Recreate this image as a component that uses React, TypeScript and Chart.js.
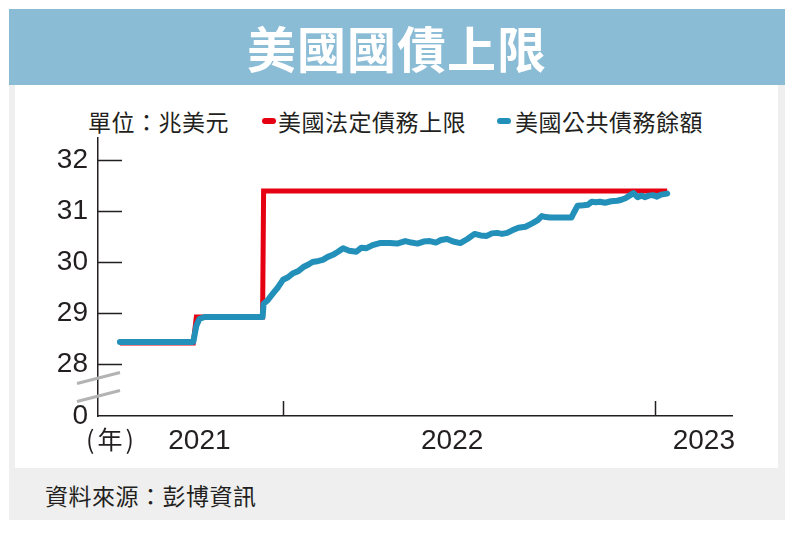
import React, { useEffect, useRef } from 'react';
import { Chart, registerables } from 'chart.js';

Chart.register(...registerables);

const TITLE = '美國國債上限';
const UNIT_LABEL = '單位：兆美元';
const LIMIT_NAME = '美國法定債務上限';
const DEBT_NAME = '美國公共債務餘額';
const SOURCE = '資料來源：彭博資訊';
const YEAR_UNIT = '(年)';

// x = days counted from 2021-01-01
const limitDays = [205, 277, 280, 345, 346, 742];
const limitValues = [28.41, 28.41, 28.92, 28.92, 31.39, 31.39];

const debtDays = [
  205, 277, 280, 283, 288, 345, 346, 350, 355, 360, 365, 370, 375, 380, 385, 390,
  394, 400, 404, 409, 414, 419, 424, 430, 437, 442, 447, 453, 460, 470, 477, 485,
  491, 497, 503, 509, 515, 520, 526, 532, 539, 546, 553, 559, 565, 570, 575, 580,
  585, 590, 596, 603, 610, 615, 619, 623, 627, 640, 648, 650, 654, 660, 664, 668,
  672, 676, 681, 687, 693, 697, 701, 705, 709, 713, 717, 720, 724, 728, 732, 736, 742,
];
const debtValues = [
  28.43, 28.43, 28.75, 28.88, 28.92, 28.92, 29.18, 29.25, 29.38, 29.5, 29.65, 29.7, 29.78, 29.82, 29.9, 29.95,
  30.0, 30.02, 30.04, 30.1, 30.14, 30.2, 30.27, 30.22, 30.2, 30.28, 30.27, 30.33, 30.37, 30.37, 30.36, 30.41,
  30.38, 30.36, 30.4, 30.41, 30.38, 30.43, 30.45, 30.4, 30.37, 30.45, 30.55, 30.52, 30.51, 30.56, 30.57, 30.55,
  30.57, 30.62, 30.67, 30.69, 30.76, 30.82, 30.9, 30.88, 30.87, 30.87, 30.87, 30.95, 31.1, 31.11, 31.12, 31.18,
  31.17, 31.18, 31.16, 31.19, 31.2, 31.22, 31.25, 31.3, 31.35, 31.27, 31.3, 31.27, 31.3, 31.31, 31.28, 31.32, 31.34,
];

const yTicks = [28, 29, 30, 31, 32];
const yBreakLabel = '0';
const yMin = 26.98;
const yMax = 32.43;

const xMin = 183.5;
const xMax = 805.6;
const yearLabels = ['2021', '2022', '2023'];
const yearLabelDays = [283, 531, 778];
const yearStartDays = [365, 730];

const RED = '#e50012';
const BLUE = '#2390b9';
const INK = '#231f20';
const NUM_FONT = '"Liberation Sans", Arial, sans-serif';
const CJK_FONT = '"Noto Sans CJK TC", "Noto Sans CJK SC", sans-serif';

const axisMarks = {
  id: 'axisMarks',
  afterDraw(chart: any) {
    const { ctx, scales } = chart;
    const xs = scales.x;
    const ys = scales.y;
    const left = xs.left;
    const bottom = ys.bottom;
    ctx.save();
    ctx.strokeStyle = INK;
    ctx.lineWidth = 1.5;
    ctx.beginPath();
    yTicks.forEach((v) => {
      const y = Math.round(ys.getPixelForValue(v)) + 0.5;
      ctx.moveTo(left, y);
      ctx.lineTo(left + 24, y);
    });
    yearStartDays.forEach((d) => {
      const x = Math.round(xs.getPixelForValue(d)) + 0.5;
      ctx.moveTo(x, bottom);
      ctx.lineTo(x, bottom - 15);
    });
    ctx.stroke();
    // axis break
    ctx.strokeStyle = '#b3b3b3';
    ctx.lineWidth = 3;
    ctx.beginPath();
    [-38, -20].forEach((off) => {
      ctx.moveTo(left - 21, bottom + off + 5.5);
      ctx.lineTo(left + 22, bottom + off - 5.5);
    });
    ctx.stroke();
    ctx.restore();
  },
};

function ChartCanvas() {
  const ref = useRef<HTMLCanvasElement | null>(null);
  useEffect(() => {
    if (!ref.current) return;
    const chart = new Chart(ref.current, {
      type: 'line',
      data: {
        datasets: [
          {
            label: DEBT_NAME,
            data: debtDays.map((d, i) => ({ x: d, y: debtValues[i] })),
            borderColor: BLUE,
            borderWidth: 6,
            pointRadius: 0,
            borderCapStyle: 'round',
            borderJoinStyle: 'round',
            tension: 0,
            order: 0,
          },
          {
            label: LIMIT_NAME,
            data: limitDays.map((d, i) => ({ x: d, y: limitValues[i] })),
            borderColor: RED,
            borderWidth: 5,
            pointRadius: 0,
            borderCapStyle: 'butt',
            borderJoinStyle: 'miter',
            tension: 0,
            order: 1,
          },
        ],
      },
      options: {
        animation: false,
        responsive: false,
        events: [],
        layout: { padding: { top: 10, right: 66, left: 0, bottom: 0 } },
        plugins: { legend: { display: false }, tooltip: { enabled: false } },
        scales: {
          x: {
            type: 'linear',
            min: xMin,
            max: xMax,
            border: { display: true, color: INK, width: 1.5 },
            grid: { display: true, drawOnChartArea: false, drawTicks: false },
            afterBuildTicks: (scale: any) => {
              scale.ticks = yearLabelDays.map((v) => ({ value: v }));
            },
            afterFit: (scale: any) => {
              scale.height = 52;
              scale.paddingLeft = 0;
              scale.paddingRight = 0;
              scale.paddingTop = 0;
              scale.paddingBottom = 0;
            },
            ticks: {
              autoSkip: false,
              maxRotation: 0,
              padding: 8,
              color: INK,
              font: { family: NUM_FONT, size: 28 },
              callback: (_v: any, i: number) => yearLabels[i],
            },
          },
          y: {
            type: 'linear',
            min: yMin,
            max: yMax,
            border: { display: true, color: INK, width: 1.5 },
            grid: { display: true, drawOnChartArea: false, drawTicks: false },
            afterBuildTicks: (scale: any) => {
              scale.ticks = [yMin, ...yTicks].map((v) => ({ value: v }));
            },
            afterFit: (scale: any) => {
              scale.width = 98;
              scale.paddingLeft = 0;
              scale.paddingRight = 0;
              scale.paddingTop = 0;
              scale.paddingBottom = 0;
            },
            ticks: {
              autoSkip: false,
              padding: 10,
              color: INK,
              font: { family: NUM_FONT, size: 28 },
              callback: (v: any, i: number) => (i === 0 ? yBreakLabel : String(v)),
            },
          },
        },
      },
      plugins: [axisMarks],
    } as any);
    return () => chart.destroy();
  }, []);
  return (
    <canvas
      ref={ref}
      width={798}
      height={340}
      style={{ position: 'absolute', left: 0, top: 128, width: 798, height: 340 }}
    />
  );
}

export default function App() {
  const legendText: React.CSSProperties = {
    position: 'absolute',
    top: 107,
    fontFamily: CJK_FONT,
    fontSize: 23,
    lineHeight: '28px',
    color: INK,
    letterSpacing: 0.5,
    whiteSpace: 'nowrap',
  };
  const dash = (color: string, left: number): React.CSSProperties => ({
    position: 'absolute',
    left,
    top: 118,
    width: 14,
    height: 6,
    borderRadius: 3,
    background: color,
  });
  return (
    <div style={{ position: 'absolute', left: 0, top: 0, width: 798, height: 537, background: '#fff', overflow: 'hidden' }}>
      <div style={{ position: 'absolute', left: 9, top: 85, width: 776, height: 435, background: '#efefef' }} />
      <div style={{ position: 'absolute', left: 15, top: 85, width: 763, height: 383, background: '#fff' }} />
      <div
        style={{
          position: 'absolute',
          left: 9,
          top: 9,
          width: 776,
          height: 76,
          background: '#8abcd6',
          color: '#fff',
          fontFamily: CJK_FONT,
          fontWeight: 700,
          fontSize: 49,
          lineHeight: '76px',
          textAlign: 'center',
          letterSpacing: 1,
        }}
      >
        {TITLE}
      </div>
      <div style={{ ...legendText, left: 88 }}>{UNIT_LABEL}</div>
      <div style={dash(RED, 262)} />
      <div style={{ ...legendText, left: 278 }}>{LIMIT_NAME}</div>
      <div style={dash(BLUE, 497)} />
      <div style={{ ...legendText, left: 515 }}>{DEBT_NAME}</div>
      <ChartCanvas />
      <div
        style={{
          position: 'absolute',
          left: 86,
          top: 422,
          fontFamily: CJK_FONT,
          fontSize: 25,
          lineHeight: '32px',
          color: INK,
          letterSpacing: 3,
        }}
      >
        {YEAR_UNIT}
      </div>
      <div
        style={{
          position: 'absolute',
          left: 45,
          top: 481,
          fontFamily: CJK_FONT,
          fontSize: 23,
          lineHeight: '28px',
          color: INK,
          letterSpacing: 0.5,
        }}
      >
        {SOURCE}
      </div>
    </div>
  );
}
